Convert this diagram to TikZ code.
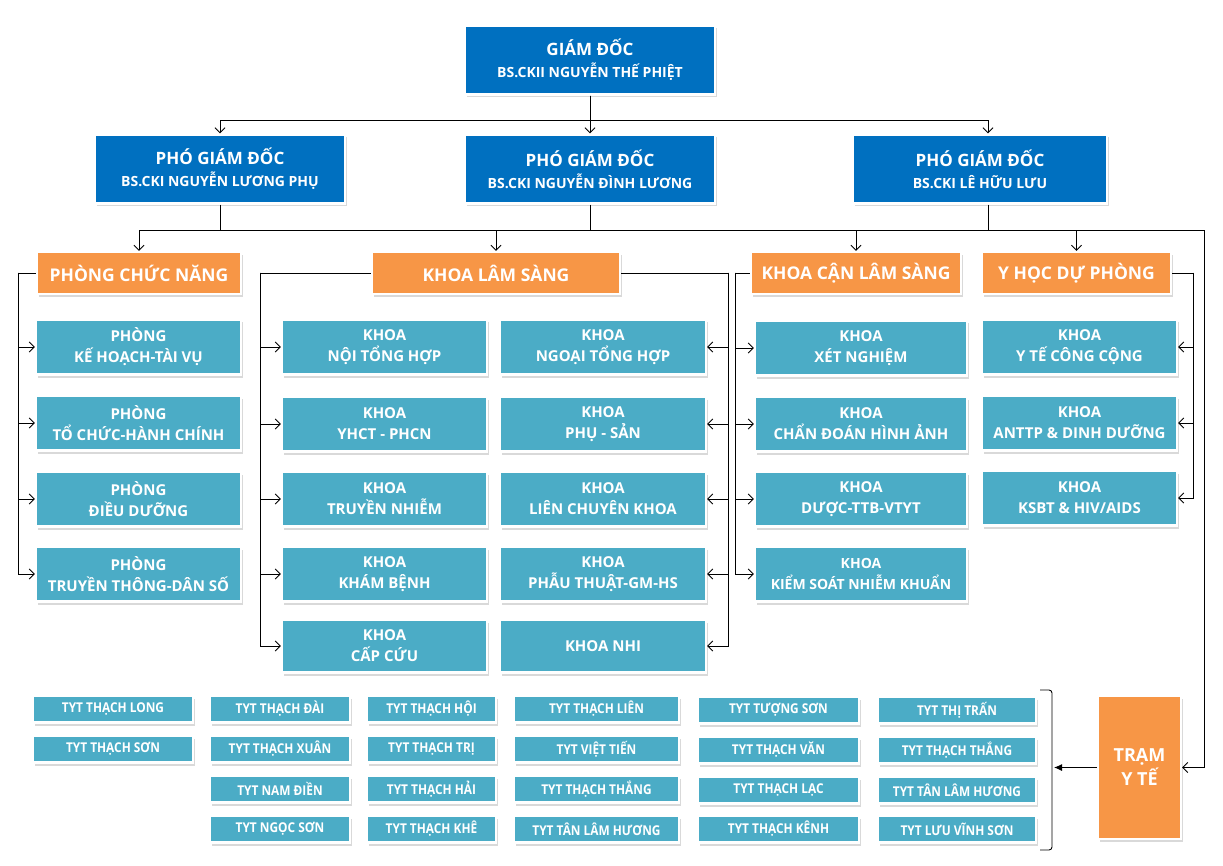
\documentclass[tikz,border=0pt]{standalone}
\usepackage{fontspec}
\setmainfont{Open Sans}
\newfontfamily\tytfont[FakeStretch=0.88]{Open Sans}
\usepackage{xcolor}
\usepackage{tikz}
\usetikzlibrary{arrows.meta, positioning, shadows, calc}

\definecolor{dirblue}{RGB}{0,112,192}
\definecolor{grporange}{RGB}{247,150,70}
\definecolor{unitteal}{RGB}{75,172,198}

\begin{document}
\begin{tikzpicture}[x=1pt, y=-1pt,
  >={Straight Barb[length=5pt,width=10pt]},
  link/.style={line width=0.9pt},
  box/.style={draw=white, line width=2.4pt, text=white, inner sep=0pt, align=center,
    drop shadow={shadow xshift=2pt, shadow yshift=-3pt, opacity=0.3}},
  dirbox/.style={box, fill=dirblue, minimum height=69, font=\bfseries\fontsize{14}{22}\selectfont},
  grpbox/.style={box, fill=grporange, minimum height=42, font=\bfseries\fontsize{17.5}{22}\selectfont},
  unitbox/.style={box, fill=unitteal, minimum height=55, font=\bfseries\fontsize{15}{21}\selectfont},
  tytbox/.style={box, fill=unitteal, minimum height=27, font=\tytfont\bfseries\fontsize{13.5}{16}\selectfont}]
\useasboundingbox (0,0) rectangle (1223,866);
% Ban giam doc
\node[dirbox, minimum width=250] (gd) at (590,60) {{\fontsize{17}{22}\selectfont GIÁM ĐỐC}\\BS.CKII NGUYỄN THẾ PHIỆT};
\node[dirbox, minimum width=250] (pgd1) at (220,169) {{\fontsize{17}{22}\selectfont PHÓ GIÁM ĐỐC}\\BS.CKI NGUYỄN LƯƠNG PHỤ};
\node[dirbox, minimum width=250] (pgd2) at (590,169) {{\fontsize{17}{22}\selectfont PHÓ GIÁM ĐỐC}\\BS.CKI NGUYỄN ĐÌNH LƯƠNG};
\node[dirbox, minimum width=254] (pgd3) at (980,169) {{\fontsize{17}{22}\selectfont PHÓ GIÁM ĐỐC}\\BS.CKI LÊ HỮU LƯU};
% Khoi
\node[grpbox, minimum width=204] (pcn) at (139,273) {PHÒNG CHỨC NĂNG};
\node[grpbox, minimum width=248] (kls) at (496,273) {KHOA LÂM SÀNG};
\node[grpbox, minimum width=210] (kcls) at (856,273) {KHOA CẬN LÂM SÀNG};
\node[grpbox, minimum width=189] (yhdp) at (1076.5,273) {Y HỌC DỰ PHÒNG};
% Phong chuc nang
\node[unitbox, minimum width=205] (pcn1) at (138.5,347) {PHÒNG\\KẾ HOẠCH-TÀI VỤ};
\node[unitbox, minimum width=205] (pcn2) at (138.5,423) {PHÒNG\\TỔ CHỨC-HÀNH CHÍNH};
\node[unitbox, minimum width=205] (pcn3) at (138.5,499) {PHÒNG\\ĐIỀU DƯỠNG};
\node[unitbox, minimum width=205] (pcn4) at (138.5,574) {PHÒNG\\TRUYỀN THÔNG-DÂN SỐ};
% Khoa lam sang, cot trai
\node[unitbox, minimum width=205] (klsa1) at (384.5,347) {KHOA\\NỘI TỔNG HỢP};
\node[unitbox, minimum width=205] (klsa2) at (384.5,424) {KHOA\\YHCT - PHCN};
\node[unitbox, minimum width=205] (klsa3) at (384.5,499) {KHOA\\TRUYỀN NHIỄM};
\node[unitbox, minimum width=205] (klsa4) at (384.5,574) {KHOA\\KHÁM BỆNH};
\node[unitbox, minimum width=205, minimum height=53] (klsa5) at (384.5,646) {KHOA\\CẤP CỨU};
% Khoa lam sang, cot phai
\node[unitbox, minimum width=206] (klsb1) at (603,347) {KHOA\\NGOẠI TỔNG HỢP};
\node[unitbox, minimum width=206] (klsb2) at (603,424) {KHOA\\PHỤ - SẢN};
\node[unitbox, minimum width=206] (klsb3) at (603,499) {KHOA\\LIÊN CHUYÊN KHOA};
\node[unitbox, minimum width=206] (klsb4) at (603,574) {KHOA\\PHẪU THUẬT-GM-HS};
\node[unitbox, minimum width=206, minimum height=53] (klsb5) at (603,646) {KHOA NHI};
% Khoa can lam sang
\node[unitbox, minimum width=212] (kcls1) at (861,348) {KHOA\\XÉT NGHIỆM};
\node[unitbox, minimum width=212] (kcls2) at (861,424) {KHOA\\CHẨN ĐOÁN HÌNH ẢNH};
\node[unitbox, minimum width=212] (kcls3) at (861,499) {KHOA\\DƯỢC-TTB-VTYT};
\node[unitbox, minimum width=212, font=\bfseries\fontsize{14}{21}\selectfont] (kcls4) at (861,574) {KHOA\\KIỂM SOÁT NHIỄM KHUẨN};
% Y hoc du phong
\node[unitbox, minimum width=195] (yhdp1) at (1079.5,347) {KHOA\\Y TẾ CÔNG CỘNG};
\node[unitbox, minimum width=195] (yhdp2) at (1079.5,423) {KHOA\\ANTTP \& DINH DƯỠNG};
\node[unitbox, minimum width=195] (yhdp3) at (1079.5,498) {KHOA\\KSBT \& HIV/AIDS};
% Tram y te
\node[grpbox, minimum width=83, minimum height=143, font=\bfseries\fontsize{18}{24}\selectfont] (tram) at (1139.5,767.5) {TRẠM\\Y TẾ};
\node[tytbox, minimum width=160] (tyta1) at (113,709) {TYT THẠCH LONG};
\node[tytbox, minimum width=160] (tyta2) at (113,749) {TYT THẠCH SƠN};
\node[tytbox, minimum width=140] (tytb1) at (280,709) {TYT THẠCH ĐÀI};
\node[tytbox, minimum width=140] (tytb2) at (280,749) {TYT THẠCH XUÂN};
\node[tytbox, minimum width=140] (tytb3) at (280,789) {TYT NAM ĐIỀN};
\node[tytbox, minimum width=140] (tytb4) at (280,829) {TYT NGỌC SƠN};
\node[tytbox, minimum width=129] (tytc1) at (431.5,709) {TYT THẠCH HỘI};
\node[tytbox, minimum width=129] (tytc2) at (431.5,749) {TYT THẠCH TRỊ};
\node[tytbox, minimum width=129] (tytc3) at (431.5,789) {TYT THẠCH HẢI};
\node[tytbox, minimum width=129] (tytc4) at (431.5,829) {TYT THẠCH KHÊ};
\node[tytbox, minimum width=165] (tytd1) at (596.5,709) {TYT THẠCH LIÊN};
\node[tytbox, minimum width=165] (tytd2) at (596.5,749) {TYT VIỆT TIẾN};
\node[tytbox, minimum width=165] (tytd3) at (596.5,789) {TYT THẠCH THẮNG};
\node[tytbox, minimum width=165] (tytd4) at (596.5,829) {TYT TÂN LÂM HƯƠNG};
\node[tytbox, minimum width=161] (tyte1) at (778.5,710) {TYT TƯỢNG SƠN};
\node[tytbox, minimum width=161] (tyte2) at (778.5,750) {TYT THẠCH VĂN};
\node[tytbox, minimum width=161] (tyte3) at (778.5,790) {TYT THẠCH LẠC};
\node[tytbox, minimum width=161] (tyte4) at (778.5,829) {TYT THẠCH KÊNH};
\node[tytbox, minimum width=158] (tytf1) at (957,710) {TYT THỊ TRẤN};
\node[tytbox, minimum width=158] (tytf2) at (957,750) {TYT THẠCH THẮNG};
\node[tytbox, minimum width=158] (tytf3) at (957,790) {TYT TÂN LÂM HƯƠNG};
\node[tytbox, minimum width=158] (tytf4) at (957,829) {TYT LƯU VĨNH SƠN};
% Duong noi cap tren
\draw[link,->] (gd) -- (pgd2);
\draw[link,->] (gd.south) -- ++(0,25) -| (pgd1.north);
\draw[link,->] (gd.south) -- ++(0,25) -| ([xshift=8pt]pgd3.north);
\draw[link] (pgd1.south) -- ++(0,26) coordinate (bus1);
\draw[link] ([xshift=8pt]pgd3.south) -- ++(0,26) coordinate (bus3);
\draw[link] (pgd2.south) -- (pgd2.south |- bus1);
\draw[link] (bus1) -- (bus3);
\draw[link,->] (bus1) -| (pcn.north);
\draw[link,->] (bus1) -| (kls.north);
\draw[link,->] (bus3) -| (kcls.north);
\draw[link,->] (bus3) -| (yhdp.north);
\draw[link,->] (bus3) -| ($(tram.east)+(22,0)$) -- (tram.east);
% Phong chuc nang
\draw[link] (pcn.west) -- ++(-17,0) coordinate (pcnbar);
\draw[link,->] (pcnbar) |- (pcn1.west);
\draw[link,->] (pcnbar) |- (pcn2.west);
\draw[link,->] (pcnbar) |- (pcn3.west);
\draw[link,->] (pcnbar) |- (pcn4.west);
% Khoa lam sang
\draw[link] (kls.west) -- ++(-110,0) coordinate (klsbara);
\draw[link,->] (klsbara) |- (klsa1.west);
\draw[link,->] (klsbara) |- (klsa2.west);
\draw[link,->] (klsbara) |- (klsa3.west);
\draw[link,->] (klsbara) |- (klsa4.west);
\draw[link,->] (klsbara) |- (klsa5.west);
\draw[link] (kls.east) -- ++(107,0) coordinate (klsbarb);
\draw[link,->] (klsbarb) |- (klsb1.east);
\draw[link,->] (klsbarb) |- (klsb2.east);
\draw[link,->] (klsbarb) |- (klsb3.east);
\draw[link,->] (klsbarb) |- (klsb4.east);
\draw[link,->] (klsbarb) |- (klsb5.east);
% Khoa can lam sang
\draw[link] (kcls.west) -- ++(-14,0) coordinate (kclsbar);
\draw[link,->] (kclsbar) |- (kcls1.west);
\draw[link,->] (kclsbar) |- (kcls2.west);
\draw[link,->] (kclsbar) |- (kcls3.west);
\draw[link,->] (kclsbar) |- (kcls4.west);
% Y hoc du phong
\draw[link] (yhdp.east) -- ++(21,0) coordinate (yhdpbar);
\draw[link,->] (yhdpbar) |- (yhdp1.east);
\draw[link,->] (yhdpbar) |- (yhdp2.east);
\draw[link,->] (yhdpbar) |- (yhdp3.east);
% Ngoac tram y te
\draw[link, rounded corners=3pt] (1040,690) -- (1052,690) -- (1052,850) -- (1040,850);
\coordinate (tytbrk) at (1054,767.5);
\draw[link,-{Latex[length=8pt,width=7pt]}] (tram.west) -- (tytbrk);
\end{tikzpicture}
\end{document}
